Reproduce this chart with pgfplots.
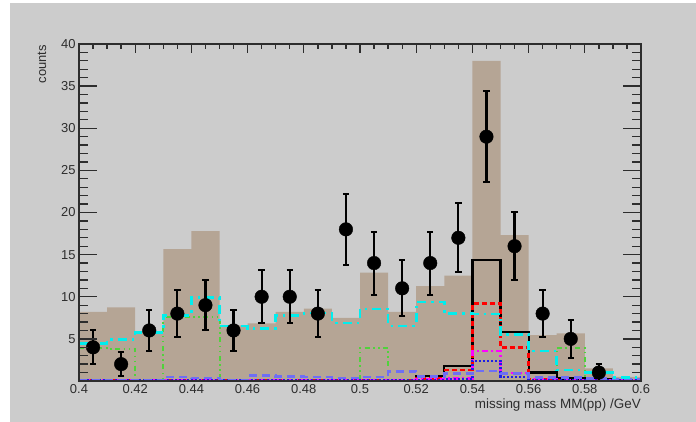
\documentclass[border=0pt]{standalone}
\usepackage{fontspec}
\setmainfont{Liberation Sans}
\usepackage{pgfplots}
\pgfplotsset{compat=1.18}
\definecolor{bg}{RGB}{204,204,204}
\definecolor{brownfill}{RGB}{181,165,149}
\definecolor{rcyan}{RGB}{0,238,238}
\definecolor{rgreen}{RGB}{80,210,60}
\definecolor{rred}{RGB}{255,0,0}
\definecolor{rmag}{RGB}{255,0,255}
\definecolor{rnavy}{RGB}{30,30,230}
\definecolor{rviolet}{RGB}{110,110,245}
\definecolor{axcol}{RGB}{45,45,45}
\begin{document}
\begin{tikzpicture}
\useasboundingbox (-79bp,-41bp) rectangle (617bp,381bp);
\fill[white] (-79bp,-41bp) rectangle (617bp,381bp);
\fill[bg] (-69bp,-41bp) rectangle (617bp,378bp);
\pgfplotsset{common/.style={at={(0,0)}, anchor=south west, scale only axis,
  width=562bp, height=337bp, xmin=0.4, xmax=0.6, ymin=0, ymax=40,
  axis line style={axcol, line width=1.3bp},
  tick style={axcol, line width=1.3bp}, tick align=inside,
  ticklabel style={font=\fontsize{13}{15}\selectfont, text=axcol},
  /pgf/number format/assume math mode=true}}
\begin{axis}[common,
  xtick={0.4,0.42,0.44,0.46,0.48,0.5,0.52,0.54,0.56,0.58,0.6},
  xticklabels={0.4,0.42,0.44,0.46,0.48,0.5,0.52,0.54,0.56,0.58,0.6},
  minor x tick num=3, major tick length=9bp, minor tick length=5bp,
  ytick=\empty,
  xlabel={missing mass MM(pp) /GeV},
  xlabel style={at={(rel axis cs:1,0)}, anchor=base east, inner sep=0pt, yshift=-27bp, font=\fontsize{13.5}{15}\selectfont, text=axcol},
  ylabel={counts},
  ylabel style={at={(axis description cs:-0.066,0.997)}, anchor=east, inner sep=0pt, font=\fontsize{13}{15}\selectfont, text=axcol},
]
% stacked sum (brown)
\addplot[fill=brownfill, draw=none, const plot] coordinates {
(0.40,8.2) (0.41,8.75) (0.42,5.9) (0.43,15.65) (0.44,17.8) (0.45,6.6) (0.46,6.85)
(0.47,8.2) (0.48,8.6) (0.49,7.5) (0.50,12.85) (0.51,8.2) (0.52,11.25) (0.53,12.5)
(0.54,38.0) (0.55,17.3) (0.56,5.45) (0.57,5.65) (0.58,1.5) (0.59,0.5) (0.60,0.5)} \closedcycle;
% green dash-dot-dot
\addplot[rgreen, line width=2bp, const plot, dash pattern=on 5bp off 3.5bp on 1.5bp off 3.5bp on 1.5bp off 3.5bp] coordinates {
(0.40,3.95) (0.41,3.85) (0.42,0) (0.43,7.65) (0.44,7.65) (0.45,0) (0.46,0)
(0.47,0) (0.48,0) (0.49,0) (0.50,3.95) (0.51,0) (0.52,0) (0.53,0)
(0.54,0) (0.55,0) (0.56,0) (0.57,3.95) (0.58,0) (0.59,0) (0.60,0)};
% black solid
\addplot[black, line width=2.2bp, const plot] coordinates {
(0.40,0) (0.41,0) (0.42,0) (0.43,0) (0.44,0) (0.45,0) (0.46,0)
(0.47,0) (0.48,0) (0.49,0) (0.50,0) (0.51,0) (0.52,0.6) (0.53,1.8)
(0.54,14.4) (0.55,5.8) (0.56,1.0) (0.57,0.3) (0.58,0.2) (0.59,0) (0.60,0)};
% red dashed
\addplot[rred, line width=2.5bp, const plot, dash pattern=on 5bp off 3bp] coordinates {
(0.40,0.05) (0.41,0.05) (0.42,0.05) (0.43,0.05) (0.44,0.05) (0.45,0.05) (0.46,0.05)
(0.47,0.05) (0.48,0.05) (0.49,0.05) (0.50,0.1) (0.51,0.1) (0.52,0.3) (0.53,1.3)
(0.54,9.2) (0.55,3.95) (0.56,0.2) (0.57,0.1) (0.58,0.05) (0.59,0) (0.60,0)};
% magenta dash-dot
\addplot[rmag, line width=2.3bp, const plot, dash pattern=on 6bp off 3bp on 2bp off 3bp] coordinates {
(0.40,0.05) (0.41,0.05) (0.42,0.05) (0.43,0.1) (0.44,0.1) (0.45,0.05) (0.46,0.15)
(0.47,0.1) (0.48,0.1) (0.49,0.1) (0.50,0.15) (0.51,0.15) (0.52,0.2) (0.53,0.3)
(0.54,3.55) (0.55,0.95) (0.56,0.2) (0.57,0.1) (0.58,0.1) (0.59,0.05) (0.60,0.05)};
% navy dotted
\addplot[rnavy, line width=2.3bp, const plot, dash pattern=on 2bp off 2bp] coordinates {
(0.40,0.05) (0.41,0.05) (0.42,0.05) (0.43,0.05) (0.44,0.05) (0.45,0.05) (0.46,0.1)
(0.47,0.1) (0.48,0.1) (0.49,0.1) (0.50,0.1) (0.51,0.1) (0.52,0.15) (0.53,0.2)
(0.54,2.4) (0.55,0.5) (0.56,0.15) (0.57,0.1) (0.58,0.05) (0.59,0.05) (0.60,0.05)};
% violet dashed
\addplot[rviolet, line width=2.5bp, const plot, dash pattern=on 8bp off 5bp] coordinates {
(0.40,0.05) (0.41,0.05) (0.42,0.1) (0.43,0.5) (0.44,0.35) (0.45,0.1) (0.46,0.65)
(0.47,0.55) (0.48,0.5) (0.49,0.35) (0.50,0.45) (0.51,1.15) (0.52,0.55) (0.53,0.9)
(0.54,1.2) (0.55,0.9) (0.56,0.4) (0.57,0.4) (0.58,0.3) (0.59,0.2) (0.60,0.2)};
% cyan dash-dot
\addplot[rcyan, line width=2.6bp, const plot, dash pattern=on 9bp off 5bp on 2.5bp off 5bp] coordinates {
(0.40,4.45) (0.41,4.95) (0.42,5.75) (0.43,7.8) (0.44,9.9) (0.45,6.55) (0.46,6.25)
(0.47,7.8) (0.48,8.05) (0.49,6.9) (0.50,8.55) (0.51,6.55) (0.52,9.4) (0.53,8.0)
(0.54,7.95) (0.55,5.55) (0.56,3.55) (0.57,1.3) (0.58,1.0) (0.59,0.4) (0.60,0.4)};
% data
\addplot[black, only marks, mark=*, mark size=6.8bp,
  error bars/.cd, y dir=both, y explicit,
  error bar style={line width=2.2bp, black},
  error mark options={rotate=90, mark size=3.2bp, line width=2bp}]
coordinates {
(0.405,4) +- (0,2.0)
(0.415,2) +- (0,1.41)
(0.425,6) +- (0,2.45)
(0.435,8) +- (0,2.83)
(0.445,9) +- (0,3.0)
(0.455,6) +- (0,2.45)
(0.465,10) +- (0,3.16)
(0.475,10) +- (0,3.16)
(0.485,8) +- (0,2.83)
(0.495,18) +- (0,4.24)
(0.505,14) +- (0,3.74)
(0.515,11) +- (0,3.32)
(0.525,14) +- (0,3.74)
(0.535,17) +- (0,4.12)
(0.545,29) +- (0,5.39)
(0.555,16) +- (0,4.0)
(0.565,8) +- (0,2.83)
(0.575,5) +- (0,2.24)
(0.585,1) +- (0,1.0)
};
\end{axis}
\begin{axis}[common, xtick=\empty,
  ytick={0,5,10,15,20,25,30,35,40},
  yticklabels={,5,10,15,20,25,30,35,40},
  minor y tick num=4, major tick length=18bp, minor tick length=9bp]
\end{axis}
\end{tikzpicture}
\end{document}
